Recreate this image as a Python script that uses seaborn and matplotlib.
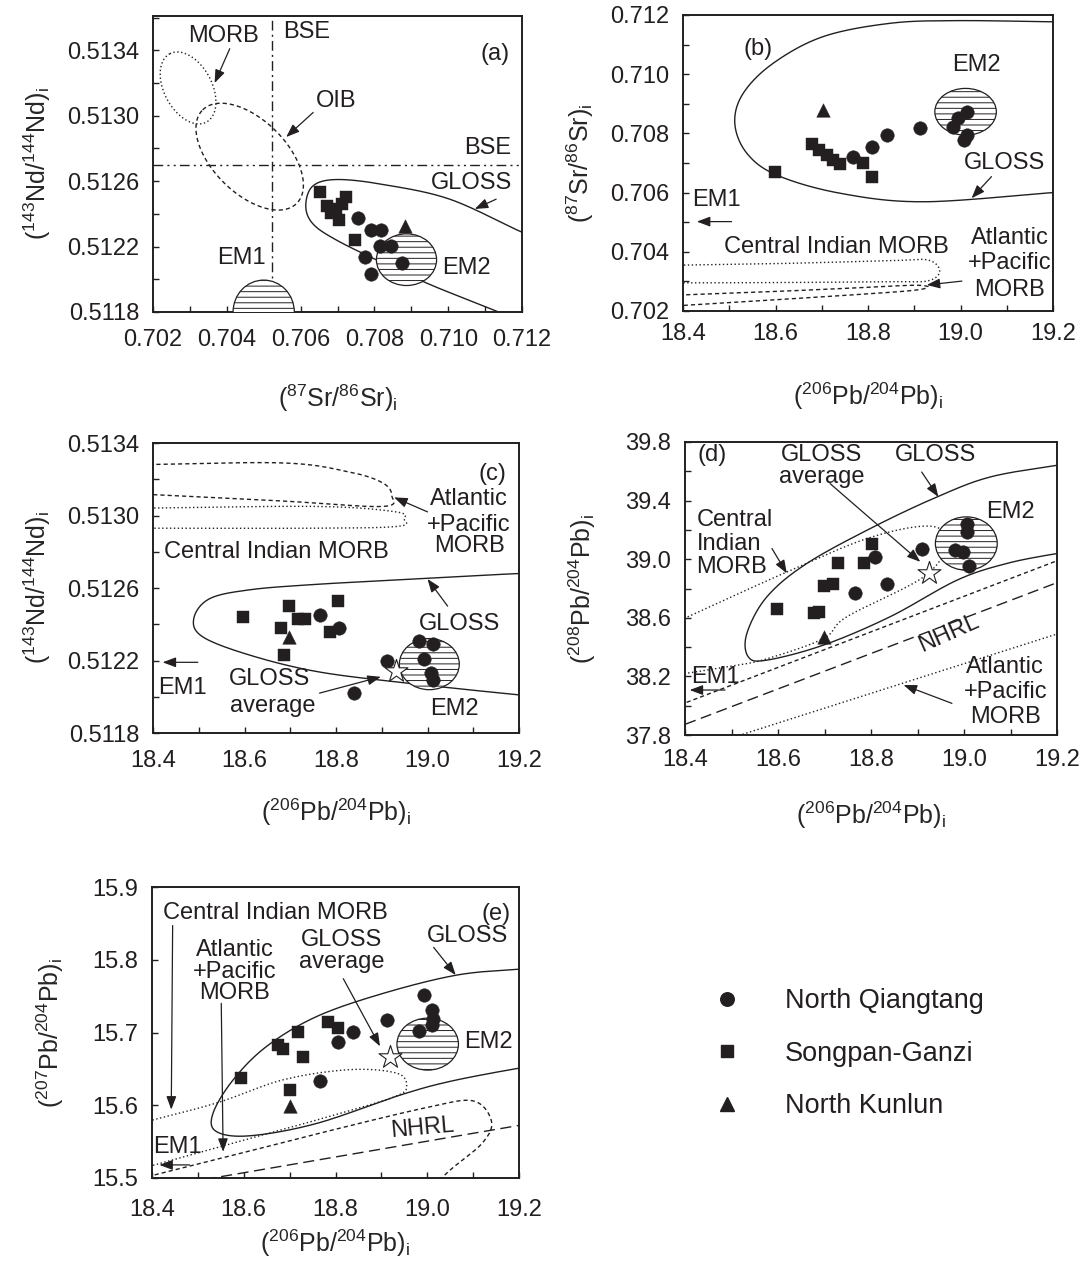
import numpy as np
import pandas as pd
import matplotlib
matplotlib.use("Agg")
import matplotlib.pyplot as plt
import seaborn as sns
from matplotlib.patches import Ellipse
from matplotlib.lines import Line2D
from matplotlib.ticker import FixedLocator, FormatStrFormatter

sns.set_style("ticks")
plt.rcParams["font.family"] = ["Liberation Sans", "DejaVu Sans"]
plt.rcParams["mathtext.fontset"] = "custom"
plt.rcParams["mathtext.rm"] = "Liberation Sans"
plt.rcParams["mathtext.it"] = "Liberation Sans:italic"
plt.rcParams["mathtext.bf"] = "Liberation Sans:bold"
plt.rcParams["hatch.linewidth"] = 0.7
plt.rcParams["hatch.color"] = "black"
plt.rcParams["text.color"] = "#231f20"

# ---------------- sample groups ----------------
GROUPS = ["North Qiangtang", "Songpan-Ganzi", "North Kunlun"]
MARKERS = {"North Qiangtang": "o", "Songpan-Ganzi": "s", "North Kunlun": "^"}
SIZES = {"North Qiangtang": 95, "Songpan-Ganzi": 75, "North Kunlun": 95}

# ---------------- (a) Sr-Nd ----------------
a_nq_sr = [0.70756, 0.70792, 0.70819, 0.70814, 0.70846, 0.70774, 0.70876, 0.70792]
a_nq_nd = [0.512375, 0.512304, 0.512304, 0.512202, 0.512202, 0.512137, 0.512101, 0.512030]
a_sg_sr = [0.70652, 0.70672, 0.70697, 0.70724, 0.70713, 0.70703, 0.70683, 0.70747]
a_sg_nd = [0.512533, 0.512446, 0.512430, 0.512503, 0.512462, 0.512365, 0.512405, 0.512243]
a_nk_sr = [0.70882]
a_nk_nd = [0.512324]

a_gloss_sr = [0.7125, 0.71198, 0.71004, 0.70823, 0.70697, 0.70633, 0.70614, 0.70633,
              0.70697, 0.70823, 0.70959, 0.71126, 0.7118]
a_gloss_nd = [0.51225, 0.51229, 0.51249, 0.51258, 0.51261, 0.51257, 0.51245, 0.51234,
              0.51224, 0.51210, 0.51196, 0.51181, 0.51175]
a_bse_sr = 0.70523
a_bse_nd = 0.51270
a_morb_field = dict(c=(0.70295, 0.51317), u=(-0.000497, 0.000209), v=(0.000569, 0.000069))
a_oib_field = dict(c=(0.70462, 0.51275), u=(-0.001274, 0.000286), v=(0.000705, 0.000158))
a_em1 = dict(c=(0.70500, 0.51180), w=0.00166, h=0.00039)
a_em2 = dict(c=(0.70887, 0.51212), w=0.00163, h=0.000316)

# ---------------- (b) Pb206 - Sr ----------------
b_nq_pb = [18.767, 18.808, 18.840, 18.912, 19.013, 18.995, 18.984, 19.013, 19.008]
b_nq_sr = [0.70721, 0.70755, 0.70795, 0.70817, 0.70873, 0.70851, 0.70823, 0.70795, 0.70778]
b_sg_pb = [18.599, 18.678, 18.693, 18.711, 18.725, 18.740, 18.790, 18.808]
b_sg_sr = [0.70671, 0.70764, 0.70744, 0.70727, 0.70710, 0.70697, 0.70701, 0.70654]
b_nk_pb = [18.702]
b_nk_sr = [0.70879]

b_gloss_pb = [19.25, 19.20, 18.992, 18.848, 18.703, 18.595, 18.530, 18.512, 18.538,
              18.603, 18.739, 18.920, 19.20, 19.25]
b_gloss_sr = [0.71177, 0.71177, 0.71181, 0.71172, 0.71127, 0.71037, 0.70935, 0.70834,
              0.70733, 0.70659, 0.70598, 0.70569, 0.70600, 0.70602]
b_cimorb_pb = [18.36, 18.60, 18.85, 18.93, 18.955, 18.93, 18.85, 18.60, 18.36]
b_cimorb_sr = [0.70354, 0.70360, 0.70370, 0.70372, 0.70335, 0.70302, 0.70299, 0.70296, 0.70295]
b_apmorb_pb = [18.36, 18.60, 18.80, 18.90, 18.93, 18.90, 18.80, 18.60, 18.36]
b_apmorb_sr = [0.70252, 0.70266, 0.70280, 0.70287, 0.70281, 0.70270, 0.70258, 0.70238, 0.70215]
b_em2 = dict(c=(19.011, 0.70873), w=0.133, h=0.00158)

# ---------------- (c) Pb206 - Nd ----------------
c_nq_pb = [18.764, 18.807, 18.982, 19.011, 18.993, 18.911, 19.008, 19.011, 18.840]
c_nq_nd = [0.51245, 0.51238, 0.51231, 0.51229, 0.51221, 0.51220, 0.51213, 0.51209, 0.51202]
c_sg_pb = [18.596, 18.698, 18.716, 18.733, 18.804, 18.786, 18.680, 18.687]
c_sg_nd = [0.51244, 0.51250, 0.51243, 0.51243, 0.51253, 0.51236, 0.51238, 0.51223]
c_nk_pb = [18.698]
c_nk_nd = [0.51233]
c_gloss_avg = (18.931, 0.51214)

c_gloss_pb = [19.25, 19.20, 18.975, 18.756, 18.611, 18.523, 18.489, 18.509,
              18.611, 18.756, 18.938, 19.20, 19.25]
c_gloss_nd = [0.51268, 0.51268, 0.51265, 0.51262, 0.51259, 0.51254, 0.51243,
              0.51233, 0.51223, 0.51214, 0.51208, 0.51201, 0.51200]
c_cimorb_pb = [18.36, 18.756, 18.931, 18.949, 18.935, 18.756, 18.36]
c_cimorb_nd = [0.51304, 0.51305, 0.51302, 0.51298, 0.51294, 0.51293, 0.51293]
c_apmorb_pb = [18.36, 18.683, 18.829, 18.902, 18.922, 18.902, 18.683, 18.36]
c_apmorb_nd = [0.51328, 0.51329, 0.51324, 0.51318, 0.51311, 0.51305, 0.51308, 0.51312]
c_em2 = dict(c=(19.004, 0.51218), w=0.131, h=0.000282)

# ---------------- (d) Pb206 - Pb208 ----------------
d_nq_pb6 = [18.809, 18.909, 18.834, 18.766, 19.006, 19.007, 18.981, 18.998, 19.010]
d_nq_pb8 = [39.016, 39.073, 38.834, 38.766, 39.243, 39.186, 39.066, 39.050, 38.952]
d_sg_pb6 = [18.802, 18.730, 18.784, 18.698, 18.719, 18.597, 18.678, 18.689]
d_sg_pb8 = [39.107, 38.971, 38.971, 38.818, 38.830, 38.657, 38.634, 38.641]
d_nk_pb6 = [18.698]
d_nk_pb8 = [38.470]
d_gloss_avg = (18.924, 38.903)

d_gloss_pb6 = [19.25, 19.20, 19.056, 18.942, 18.805, 18.662, 18.576, 18.533, 18.536,
               18.576, 18.698, 18.841, 18.985, 19.092, 19.20, 19.25]
d_gloss_pb8 = [39.66, 39.641, 39.561, 39.425, 39.220, 38.971, 38.743, 38.493, 38.334,
               38.311, 38.414, 38.607, 38.857, 38.971, 39.039, 39.06]
d_cimorb_pb6 = [18.36, 18.612, 18.798, 18.930, 18.962, 18.913, 18.748, 18.698, 18.576, 18.50, 18.36]
d_cimorb_pb8 = [38.54, 38.903, 39.148, 39.225, 39.10, 38.879, 38.607, 38.459, 38.32, 38.27, 38.20]
d_apmorb_up_pb6 = [18.36, 19.25]
d_apmorb_up_pb8 = [37.97, 39.05]
d_apmorb_lo_pb6 = [18.46, 19.25]
d_apmorb_lo_pb8 = [37.74, 38.54]
nhrl_208 = (1.209, 15.627)
d_em2 = dict(c=(19.005, 39.107), w=0.133, h=0.364)

# ---------------- (e) Pb206 - Pb207 ----------------
e_nq_pb6 = [18.766, 18.806, 18.838, 18.912, 18.994, 19.011, 19.013, 19.011, 18.983]
e_nq_pb7 = [15.633, 15.687, 15.701, 15.717, 15.751, 15.731, 15.718, 15.710, 15.702]
e_sg_pb6 = [18.595, 18.675, 18.686, 18.719, 18.730, 18.784, 18.806, 18.701]
e_sg_pb7 = [15.637, 15.683, 15.678, 15.701, 15.667, 15.715, 15.706, 15.621]
e_nk_pb6 = [18.701]
e_nk_pb7 = [15.599]
e_gloss_avg = (18.918, 15.667)

e_gloss_pb6 = [19.25, 19.20, 19.065, 18.905, 18.759, 18.650, 18.577, 18.533, 18.540,
               18.613, 18.759, 18.941, 19.051, 19.20, 19.25]
e_gloss_pb7 = [15.788, 15.787, 15.779, 15.754, 15.722, 15.681, 15.635, 15.589, 15.564,
               15.558, 15.575, 15.614, 15.633, 15.651, 15.655]
e_cimorb_pb6 = [18.36, 18.540, 18.686, 18.832, 18.934, 18.955, 18.930, 18.80, 18.60, 18.36]
e_cimorb_pb7 = [15.573, 15.603, 15.635, 15.649, 15.644, 15.626, 15.612, 15.587, 15.552, 15.51]
e_apmorb_pb6 = [18.36, 18.60, 18.80, 19.00, 19.10, 19.14, 19.12, 19.05, 19.00]
e_apmorb_pb7 = [15.497, 15.535, 15.567, 15.597, 15.606, 15.578, 15.548, 15.511, 15.48]
nhrl_207 = (0.1084, 13.491)
e_em2 = dict(c=(19.001, 15.684), w=0.134, h=0.0714)

# ---------------- tick values ----------------
a_xticks = [0.702, 0.704, 0.706, 0.708, 0.710, 0.712]
a_yticks = [0.5118, 0.5122, 0.5126, 0.5130, 0.5134]
pb6_ticks = [18.4, 18.6, 18.8, 19.0, 19.2]
sr_ticks = [0.702, 0.704, 0.706, 0.708, 0.710, 0.712]
nd_ticks = [0.5118, 0.5122, 0.5126, 0.5130, 0.5134]
pb8_ticks = [37.8, 38.2, 38.6, 39.0, 39.4, 39.8]
pb7_ticks = [15.5, 15.6, 15.7, 15.8, 15.9]

LAB_SR = r"$(^{87}\mathrm{Sr}/^{86}\mathrm{Sr})_\mathrm{i}$"
LAB_ND = r"$(^{143}\mathrm{Nd}/^{144}\mathrm{Nd})_\mathrm{i}$"
LAB_206 = r"$(^{206}\mathrm{Pb}/^{204}\mathrm{Pb})_\mathrm{i}$"
LAB_208 = r"$(^{208}\mathrm{Pb}/^{204}\mathrm{Pb})_\mathrm{i}$"
LAB_207 = r"$(^{207}\mathrm{Pb}/^{204}\mathrm{Pb})_\mathrm{i}$"

TXT = 17
INK = "#231f20"
DOT = (0, (1.0, 1.8))
DASH = (0, (3.0, 2.2))
LONGDASH = (0, (8, 4))


def catmull(xs, ys, closed=False, n=30):
    P = np.column_stack([xs, ys]).astype(float)
    if closed:
        P = np.vstack([P[-1], P, P[0], P[1]])
    else:
        P = np.vstack([2 * P[0] - P[1], P, 2 * P[-1] - P[-2]])
    t = np.linspace(0, 1, n, endpoint=False)[:, None]
    out = []
    for i in range(1, len(P) - 2):
        p0, p1, p2, p3 = P[i - 1], P[i], P[i + 1], P[i + 2]
        out.append(0.5 * (2 * p1 + (-p0 + p2) * t + (2 * p0 - 5 * p1 + 4 * p2 - p3) * t ** 2
                          + (-p0 + 3 * p1 - 3 * p2 + p3) * t ** 3))
    out.append(P[-2][None, :])
    return np.vstack(out)


def curve(ax, xs, ys, ls="-", closed=False, lw=1.0):
    pts = catmull(xs, ys, closed)
    ax.plot(pts[:, 0], pts[:, 1], color=INK, lw=lw, ls=ls, zorder=2)


def conj_ellipse(ax, f, ls):
    t = np.linspace(0, 2 * np.pi, 300)
    cx, cy = f["c"]
    x = cx + f["u"][0] * np.cos(t) + f["v"][0] * np.sin(t)
    y = cy + f["u"][1] * np.cos(t) + f["v"][1] * np.sin(t)
    ax.plot(x, y, color=INK, lw=1.0, ls=ls, zorder=2)


def hatched(ax, f):
    ax.add_patch(Ellipse(f["c"], f["w"], f["h"], facecolor="white", edgecolor=INK,
                         lw=0.9, hatch="---", zorder=3))


def line(ax, slope_icpt, ls, x0=18.3, x1=19.3):
    xs = np.array([x0, x1])
    ax.plot(xs, slope_icpt[0] * xs + slope_icpt[1], color=INK, lw=1.0, ls=ls, zorder=2)


def samples(ax, xs_list, ys_list):
    frames = [pd.DataFrame({"x": xs, "y": ys, "group": g})
              for g, xs, ys in zip(GROUPS, xs_list, ys_list)]
    df = pd.concat(frames, ignore_index=True)
    for g in GROUPS:
        sns.scatterplot(data=df[df["group"] == g], x="x", y="y", marker=MARKERS[g],
                        s=SIZES[g], color=INK, edgecolor=INK, linewidth=0.3,
                        legend=False, ax=ax, zorder=6)


def star(ax, pt):
    ax.scatter([pt[0]], [pt[1]], marker="*", s=300, facecolor="white",
               edgecolor=INK, linewidth=0.8, zorder=7)


def txt(ax, s, x, y, ha="center", rot=0):
    ax.text(x, y, s, ha=ha, va="center", fontsize=TXT, rotation=rot, zorder=8)


def arrow(ax, tail, tip):
    ax.annotate("", xy=tip, xytext=tail,
                arrowprops=dict(arrowstyle="-|>,head_length=0.8,head_width=0.3",
                                color=INK, lw=0.9, shrinkA=0, shrinkB=0,
                                mutation_scale=10), zorder=8)


def frame(ax, xlim, ylim, xticks, xminor, yticks, yminor, xfmt, yfmt,
          xlabel, ylabel, xlab_y, ylab_x, xpad):
    ax.set_xlim(*xlim)
    ax.set_ylim(*ylim)
    ax.xaxis.set_major_locator(FixedLocator(xticks))
    ax.xaxis.set_minor_locator(FixedLocator(xminor))
    ax.yaxis.set_major_locator(FixedLocator(yticks))
    ax.yaxis.set_minor_locator(FixedLocator(yminor))
    ax.xaxis.set_major_formatter(FormatStrFormatter(xfmt))
    ax.yaxis.set_major_formatter(FormatStrFormatter(yfmt))
    ax.tick_params(which="both", direction="in", length=4.5, width=1.0,
                   color=INK, labelcolor=INK, labelsize=17, top=False, right=False)
    ax.tick_params(axis="x", pad=xpad)
    ax.tick_params(axis="y", pad=10)
    for sp in ax.spines.values():
        sp.set_visible(True)
        sp.set_linewidth(1.4)
        sp.set_color(INK)
    ax.set_xlabel(xlabel, fontsize=18, va="center")
    ax.set_ylabel(ylabel, fontsize=18, va="center")
    ax.xaxis.set_label_coords(0.5, xlab_y)
    ax.yaxis.set_label_coords(ylab_x, 0.5)
    ax.set_facecolor("white")


fig = plt.figure(figsize=(10.83, 12.72), dpi=100)
W, H = 1083.0, 1272.0


def axes_px(left, top, right, bottom):
    return fig.add_axes([left / W, 1 - bottom / H, (right - left) / W, (bottom - top) / H])


# ---------------- panel (a) ----------------
ax = axes_px(153, 16, 522, 312)
conj_ellipse(ax, a_morb_field, DOT)
conj_ellipse(ax, a_oib_field, DASH)
ax.axvline(a_bse_sr, color=INK, lw=1.0, ls=(0, (7, 3, 1.5, 3)), zorder=2)
ax.axhline(a_bse_nd, color=INK, lw=1.0, ls=(0, (7, 3, 1.5, 3, 1.5, 3)), zorder=2)
curve(ax, a_gloss_sr, a_gloss_nd)
hatched(ax, a_em1)
hatched(ax, a_em2)
samples(ax, [a_nq_sr, a_sg_sr, a_nk_sr], [a_nq_nd, a_sg_nd, a_nk_nd])
for s, x, y in [("MORB", 0.70390, 0.51349), ("BSE", 0.70616, 0.51351),
                ("(a)", 0.71126, 0.51338), ("OIB", 0.70697, 0.51309),
                ("BSE", 0.71108, 0.51280), ("GLOSS", 0.71063, 0.51259),
                ("EM1", 0.70439, 0.51213), ("EM2", 0.71049, 0.51207)]:
    txt(ax, s, x, y)
arrow(ax, (0.70408, 0.51341), (0.70367, 0.51320))
arrow(ax, (0.70634, 0.51302), (0.70561, 0.51287))
arrow(ax, (0.71130, 0.51249), (0.71072, 0.51243))
frame(ax, (0.702, 0.712), (0.5118, 0.51361), a_xticks, np.arange(0.703, 0.7115, 0.002),
      a_yticks, np.arange(0.5120, 0.51361, 0.0004), "%.3f", "%.4f",
      LAB_SR, LAB_ND, -0.29, -0.314, 12)

# ---------------- panel (b) ----------------
ax = axes_px(683, 15, 1053, 311)
curve(ax, b_gloss_pb, b_gloss_sr)
curve(ax, b_cimorb_pb, b_cimorb_sr, ls=DOT)
curve(ax, b_apmorb_pb, b_apmorb_sr, ls=DASH)
hatched(ax, b_em2)
samples(ax, [b_nq_pb, b_sg_pb, b_nk_pb], [b_nq_sr, b_sg_sr, b_nk_sr])
for s, x, y in [("(b)", 18.563, 0.71084), ("EM2", 19.035, 0.71031),
                ("GLOSS", 19.096, 0.70699), ("EM1", 18.473, 0.70575),
                ("Central Indian MORB", 18.732, 0.70417), ("Atlantic", 19.107, 0.70446),
                ("+Pacific", 19.107, 0.70361), ("MORB", 19.107, 0.70271)]:
    txt(ax, s, x, y)
arrow(ax, (19.067, 0.70654), (19.024, 0.70581))
arrow(ax, (18.505, 0.70502), (18.43, 0.70502))
arrow(ax, (19.003, 0.70301), (18.927, 0.70288))
frame(ax, (18.4, 19.2), (0.702, 0.712), pb6_ticks, [18.5, 18.7, 18.9, 19.1],
      sr_ticks, np.arange(0.703, 0.7115, 0.002), "%.1f", "%.3f",
      LAB_206, LAB_SR, -0.287, -0.278, 9)

# ---------------- panel (c) ----------------
ax = axes_px(153, 443, 519, 733)
curve(ax, c_apmorb_pb, c_apmorb_nd, ls=DASH)
curve(ax, c_cimorb_pb, c_cimorb_nd, ls=DOT)
curve(ax, c_gloss_pb, c_gloss_nd)
hatched(ax, c_em2)
samples(ax, [c_nq_pb, c_sg_pb, c_nk_pb], [c_nq_nd, c_sg_nd, c_nk_nd])
star(ax, c_gloss_avg)
for s, x, y in [("(c)", 19.142, 0.51323), ("Atlantic", 19.091, 0.51309),
                ("+Pacific", 19.091, 0.51295), ("MORB", 19.091, 0.51283),
                ("Central Indian MORB", 18.669, 0.51280), ("GLOSS", 19.069, 0.51240),
                ("EM1", 18.465, 0.51205), ("GLOSS", 18.654, 0.51210),
                ("average", 18.662, 0.51195), ("EM2", 19.058, 0.51193)]:
    txt(ax, s, x, y)
arrow(ax, (19.0, 0.51302), (18.927, 0.51310))
arrow(ax, (19.044, 0.51250), (19.0, 0.51265))
arrow(ax, (18.498, 0.51219), (18.421, 0.51219))
arrow(ax, (18.764, 0.51202), (18.898, 0.51211))
frame(ax, (18.4, 19.2), (0.5118, 0.5134), pb6_ticks, [18.5, 18.7, 18.9, 19.1],
      nd_ticks, np.arange(0.5120, 0.51335, 0.0004), "%.1f", "%.4f",
      LAB_206, LAB_ND, -0.272, -0.317, 12)

# ---------------- panel (d) ----------------
ax = axes_px(685, 442, 1057, 735)
curve(ax, d_gloss_pb6, d_gloss_pb8)
curve(ax, d_cimorb_pb6, d_cimorb_pb8, ls=DOT)
ax.plot(d_apmorb_up_pb6, d_apmorb_up_pb8, color=INK, lw=1.0, ls=DASH, zorder=2)
ax.plot(d_apmorb_lo_pb6, d_apmorb_lo_pb8, color=INK, lw=1.0, ls=DOT, zorder=2)
line(ax, nhrl_208, LONGDASH)
hatched(ax, d_em2)
samples(ax, [d_nq_pb6, d_sg_pb6, d_nk_pb6], [d_nq_pb8, d_sg_pb8, d_nk_pb8])
star(ax, d_gloss_avg)
for s, x, y in [("(d)", 18.458, 39.709), ("GLOSS", 18.694, 39.709),
                ("average", 18.694, 39.561), ("GLOSS", 18.938, 39.709),
                ("EM2", 19.099, 39.323), ("Atlantic", 19.089, 38.266),
                ("+Pacific", 19.089, 38.095), ("MORB", 19.089, 37.925),
                ("EM1", 18.465, 38.198)]:
    txt(ax, s, x, y)
for s, y in [("Central", 39.266), ("Indian", 39.107), ("MORB", 38.948)]:
    txt(ax, s, 18.425, y, ha="left")
txt(ax, "NHRL", 18.967, 38.493, rot=24)
arrow(ax, (18.909, 39.595), (18.945, 39.425))
arrow(ax, (18.712, 39.516), (18.906, 38.982))
arrow(ax, (18.587, 39.073), (18.619, 38.903))
arrow(ax, (18.974, 38.016), (18.870, 38.141))
arrow(ax, (18.486, 38.107), (18.41, 38.107))
frame(ax, (18.4, 19.2), (37.8, 39.8), pb6_ticks, [18.5, 18.7, 18.9, 19.1],
      pb8_ticks, [38.0, 38.4, 38.8, 39.2, 39.6], "%.1f", "%.1f",
      LAB_206, LAB_208, -0.273, -0.277, 10)

# ---------------- panel (e) ----------------
ax = axes_px(152, 887, 519, 1178)
curve(ax, e_gloss_pb6, e_gloss_pb7)
curve(ax, e_cimorb_pb6, e_cimorb_pb7, ls=DOT)
curve(ax, e_apmorb_pb6, e_apmorb_pb7, ls=DASH)
line(ax, nhrl_207, LONGDASH)
hatched(ax, e_em2)
samples(ax, [e_nq_pb6, e_sg_pb6, e_nk_pb6], [e_nq_pb7, e_sg_pb7, e_nk_pb7])
star(ax, e_gloss_avg)
for s, x, y in [("(e)", 19.149, 15.863), ("Central Indian MORB", 18.668, 15.864),
                ("GLOSS", 19.087, 15.832), ("Atlantic", 18.580, 15.814),
                ("+Pacific", 18.580, 15.783), ("MORB", 18.580, 15.754),
                ("GLOSS", 18.814, 15.827), ("average", 18.814, 15.797),
                ("EM2", 19.134, 15.687), ("EM1", 18.456, 15.543)]:
    txt(ax, s, x, y)
txt(ax, "NHRL", 18.989, 15.568, rot=5)
arrow(ax, (18.445, 15.847), (18.442, 15.594))
arrow(ax, (18.551, 15.740), (18.555, 15.536))
arrow(ax, (18.817, 15.774), (18.897, 15.681))
arrow(ax, (19.014, 15.817), (19.062, 15.779))
arrow(ax, (18.482, 15.518), (18.416, 15.518))
frame(ax, (18.4, 19.2), (15.5, 15.9), pb6_ticks, [18.5, 18.7, 18.9, 19.1],
      pb7_ticks, [], "%.1f", "%.1f",
      LAB_206, LAB_207, -0.223, -0.278, 15)

# ---------------- legend ----------------
handles = [Line2D([], [], ls="", marker=MARKERS[g], color=INK,
                  markersize=np.sqrt(SIZES[g])) for g in GROUPS]
fig.legend(handles, GROUPS, loc="upper left", bbox_to_anchor=(713.5 / W, 1 - 988 / H),
           frameon=False, fontsize=19.5, handlelength=1.0, handletextpad=1.64,
           labelspacing=0.98, borderpad=0, borderaxespad=0)

fig.savefig("out.png", dpi=100, facecolor="white")
